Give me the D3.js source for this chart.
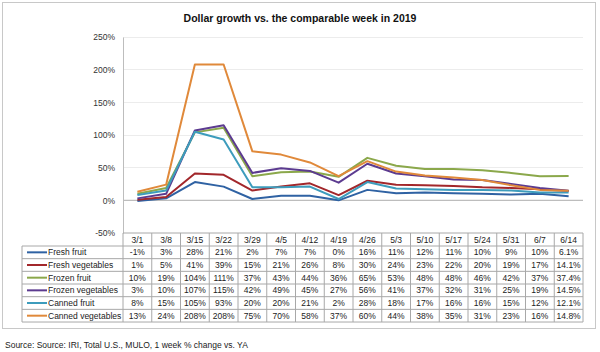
<!DOCTYPE html>
<html>
<head>
<meta charset="utf-8">
<script src="https://cdn.jsdelivr.net/npm/d3@7"></script>
<style>
  body { margin: 0; background: #fff; }
  text { font-family: "Liberation Sans", Arial, sans-serif; }
</style>
</head>
<body>
<div id="chart"></div>
<script>
// weeks of 2020 compared with the same week in 2019
const weeks = ['3/1', '3/8', '3/15', '3/22', '3/29', '4/5', '4/12', '4/19', '4/26', '5/3', '5/10', '5/17', '5/24', '5/31', '6/7', '6/14']

const freshFruit = [-1, 3, 28, 21, 2, 7, 7, 0, 16, 11, 12, 11, 10, 9, 10, 6.1]
const freshVegetables = [1, 5, 41, 39, 15, 21, 26, 8, 30, 24, 23, 22, 20, 19, 17, 14.1]
const frozenFruit = [10, 19, 104, 111, 37, 43, 44, 36, 65, 53, 48, 48, 46, 42, 37, 37.4]
const frozenVegetables = [3, 10, 107, 115, 42, 49, 45, 27, 56, 41, 37, 32, 31, 25, 19, 14.5]
const cannedFruit = [8, 15, 105, 93, 20, 20, 21, 2, 28, 18, 17, 16, 16, 15, 12, 12.1]
const cannedVegetables = [13, 24, 208, 208, 75, 70, 58, 37, 60, 44, 38, 35, 31, 23, 16, 14.8]

const seriesNames = ['Fresh fruit', 'Fresh vegetables', 'Frozen fruit', 'Frozen vegetables', 'Canned fruit', 'Canned vegetables']
const seriesValues = [freshFruit, freshVegetables, frozenFruit, frozenVegetables, cannedFruit, cannedVegetables]
const seriesColors = ['#2f62a3', '#a2272b', '#8ba84b', '#5c3b90', '#3d9cbc', '#e0893a']

const yTicks = [-50, 0, 50, 100, 150, 200, 250]

const width = 600
const height = 352
const plot = { left: 123, right: 583, top: 37, bottom: 233 }
const rowH = 12.67
const headerH = 13
const legendLeft = 22

const series = seriesNames.map((name, i) => ({ name, color: seriesColors[i], values: seriesValues[i] }))

const svg = d3.select('#chart')
  .append('svg')
  .attr('width', width)
  .attr('height', height)

// outer frame
svg.append('rect')
  .attr('x', 2.5)
  .attr('y', 2.5)
  .attr('width', 593)
  .attr('height', 326)
  .attr('fill', '#fff')
  .attr('stroke', '#c8c8c8')

svg.append('text')
  .attr('x', 300)
  .attr('y', 22)
  .attr('text-anchor', 'middle')
  .style('font-size', '10.5px')
  .style('font-weight', 'bold')
  .attr('fill', '#111')
  .text('Dollar growth vs. the comparable week in 2019')

const x = d3.scaleBand(weeks, [plot.left, plot.right]).padding(0)
const y = d3.scaleLinear([-50, 250], [plot.bottom, plot.top])

// gridlines
svg.append('g')
  .selectAll('line')
  .data(yTicks.filter(d => d !== 0 && d !== -50))
  .enter()
  .append('line')
  .attr('x1', plot.left)
  .attr('x2', plot.right)
  .attr('y1', d => y(d))
  .attr('y2', d => y(d))
  .attr('stroke', '#ececec')
  .style('shape-rendering', 'crispEdges')

// y axis
const yAxis = svg.append('g')
  .attr('transform', `translate(${plot.left}, 0)`)
  .call(d3.axisLeft(y).tickValues(yTicks).tickSize(0).tickPadding(8).tickFormat(d => d + '%'))
yAxis.select('.domain').attr('stroke', '#bdbdbd')
yAxis.selectAll('text')
  .style('font-size', '8.5px')
  .attr('fill', '#333')
  .style('font-family', '"Liberation Sans", Arial, sans-serif')

// zero line
svg.append('line')
  .attr('x1', plot.left)
  .attr('x2', plot.right)
  .attr('y1', y(0))
  .attr('y2', y(0))
  .attr('stroke', '#bdbdbd')
  .attr('stroke-width', 1.2)

// lines
const line = d3.line()
  .x((d, i) => x(weeks[i]) + x.bandwidth() / 2)
  .y(d => y(d))

svg.append('g')
  .selectAll('path')
  .data(series)
  .enter()
  .append('path')
  .attr('fill', 'none')
  .attr('stroke', d => d.color)
  .attr('stroke-width', 2)
  .attr('stroke-linejoin', 'round')
  .attr('d', d => line(d.values))

// data table
const table = svg.append('g')
const tableBottom = plot.bottom + headerH + rowH * series.length
const gridColor = '#a8a8a8'

// header row
table.append('g')
  .selectAll('text')
  .data(weeks)
  .enter()
  .append('text')
  .attr('x', d => x(d) + x.bandwidth() / 2)
  .attr('y', plot.bottom + headerH / 2 + 3)
  .attr('text-anchor', 'middle')
  .style('font-size', '8.5px')
  .attr('fill', '#222')
  .text(d => d)

const fmt = v => Number.isInteger(v) ? v + '%' : v.toFixed(1) + '%'

const rows = table.selectAll('g.row')
  .data(series)
  .enter()
  .append('g')
  .attr('class', 'row')
  .attr('transform', (d, i) => `translate(0, ${plot.bottom + headerH + i * rowH})`)

rows.append('line')
  .attr('x1', legendLeft + 5)
  .attr('x2', legendLeft + 25)
  .attr('y1', rowH / 2)
  .attr('y2', rowH / 2)
  .attr('stroke', d => d.color)
  .attr('stroke-width', 2)

rows.append('text')
  .attr('x', legendLeft + 26)
  .attr('y', rowH / 2 + 3)
  .style('font-size', '8.5px')
  .attr('fill', '#222')
  .text(d => d.name)

rows.selectAll('text.val')
  .data(d => d.values)
  .enter()
  .append('text')
  .attr('class', 'val')
  .attr('x', (d, i) => x(weeks[i]) + x.bandwidth() / 2)
  .attr('y', rowH / 2 + 3)
  .attr('text-anchor', 'middle')
  .style('font-size', '8.5px')
  .attr('fill', '#222')
  .text(fmt)

// table grid: horizontal lines
const hLines = d3.range(series.length + 1).map(i => plot.bottom + headerH + i * rowH)
table.append('line')
  .attr('x1', plot.left)
  .attr('x2', plot.right)
  .attr('y1', plot.bottom)
  .attr('y2', plot.bottom)
  .attr('stroke', gridColor)
table.selectAll('line.h')
  .data(hLines)
  .enter()
  .append('line')
  .attr('class', 'h')
  .attr('x1', legendLeft)
  .attr('x2', plot.right)
  .attr('y1', d => d)
  .attr('y2', d => d)
  .attr('stroke', gridColor)

// vertical lines
const vLines = weeks.map(w => x(w)).concat([plot.right])
table.selectAll('line.v')
  .data(vLines)
  .enter()
  .append('line')
  .attr('class', 'v')
  .attr('x1', d => d)
  .attr('x2', d => d)
  .attr('y1', plot.bottom)
  .attr('y2', tableBottom)
  .attr('stroke', gridColor)
table.append('line')
  .attr('x1', legendLeft)
  .attr('x2', legendLeft)
  .attr('y1', plot.bottom + headerH)
  .attr('y2', tableBottom)
  .attr('stroke', gridColor)

svg.append('text')
  .attr('x', 5)
  .attr('y', 348)
  .style('font-size', '8.5px')
  .attr('fill', '#222')
  .text('Source: Source: IRI, Total U.S., MULO, 1 week % change vs. YA')
</script>
</body>
</html>
